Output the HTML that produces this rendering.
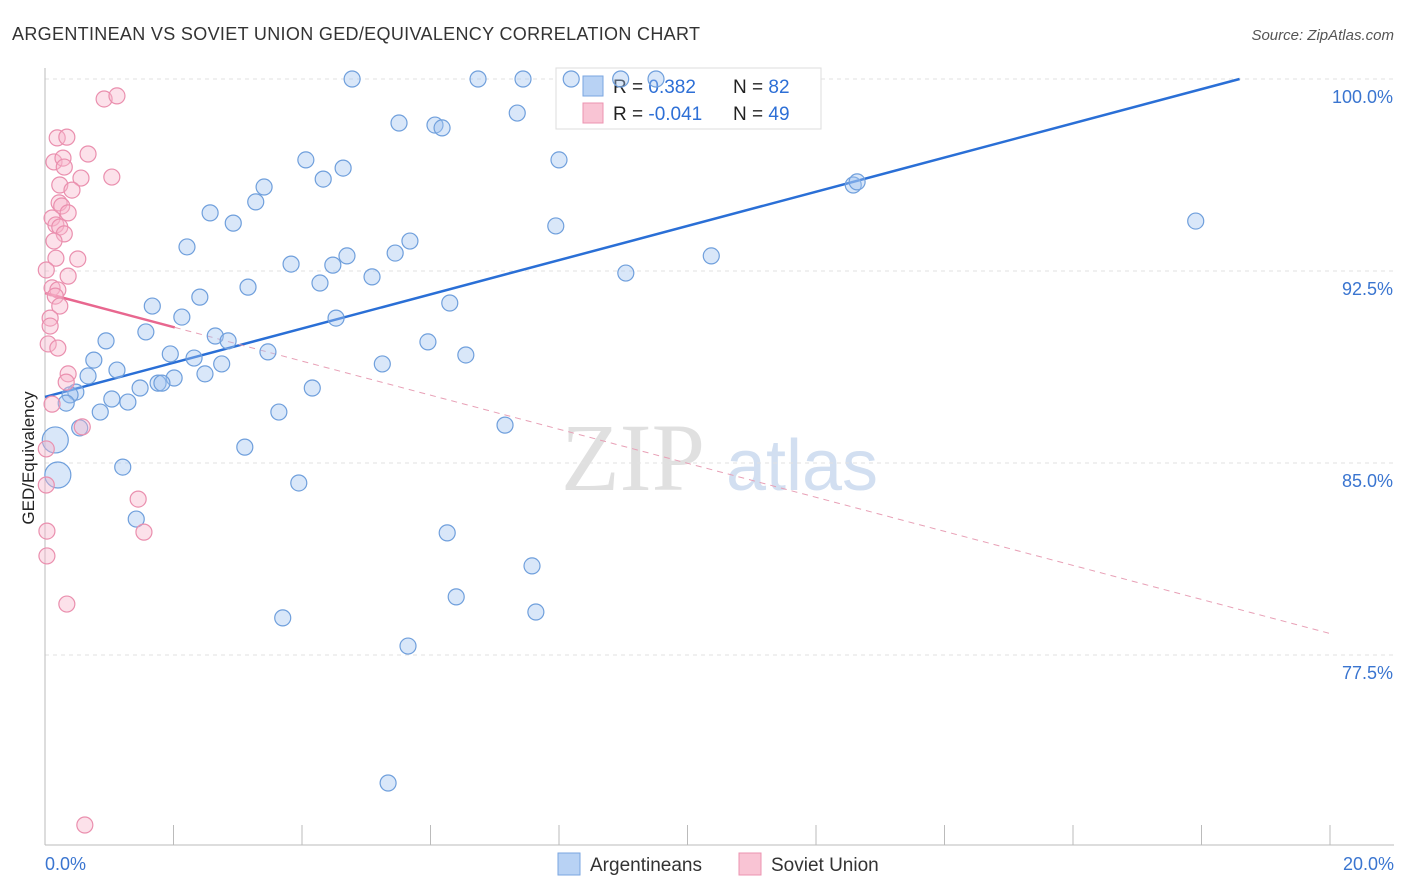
<!DOCTYPE html>
<html><head><meta charset="utf-8"><style>
body{margin:0;background:#fff;font-family:"Liberation Sans",sans-serif}
svg{display:block}
</style></head><body>
<svg id="c" width="1406" height="892" xmlns="http://www.w3.org/2000/svg">
<text x="12" y="40" font-size="18" fill="#333" textLength="688">ARGENTINEAN VS SOVIET UNION GED/EQUIVALENCY CORRELATION CHART</text>
<text x="1394" y="40" font-size="15" fill="#555" font-style="italic" text-anchor="end">Source: ZipAtlas.com</text>
<g><text x="633" y="490" font-size="96" fill="#d9d9d9" font-family="Liberation Serif" text-anchor="middle" opacity="0.8">ZIP</text><text x="802" y="490" font-size="72" fill="#c8d8ee" text-anchor="middle" opacity="0.8">atlas</text></g>
<g id="grid"></g><g id="axes"></g>
<g>
<rect x="556" y="68" width="265" height="61" fill="#fff" stroke="#ddd"/>
<rect x="583" y="76" width="20" height="20" fill="#b8d2f4" stroke="#7aa6e0"/>
<rect x="583" y="103" width="20" height="20" fill="#f9c4d4" stroke="#ec93b0"/>
<text x="613" y="93" font-size="19" fill="#222">R = <tspan fill="#2d6fd6"> 0.382</tspan></text>
<text x="733" y="93" font-size="19" fill="#222">N = <tspan fill="#2d6fd6">82</tspan></text>
<text x="613" y="120" font-size="19" fill="#222">R = <tspan fill="#2d6fd6">-0.041</tspan></text>
<text x="733" y="120" font-size="19" fill="#222">N = <tspan fill="#2d6fd6">49</tspan></text>
</g>
<g id="lines"></g><g id="pts"></g>
<text transform="translate(34,458) rotate(-90)" font-size="17" fill="#222" text-anchor="middle">GED/Equivalency</text>
<g>
<rect x="558" y="853" width="22" height="22" fill="#b8d2f4" stroke="#7aa6e0"/>
<text x="590" y="871" font-size="19" fill="#333">Argentineans</text>
<rect x="739" y="853" width="22" height="22" fill="#f9c4d4" stroke="#ec93b0"/>
<text x="771" y="871" font-size="19" fill="#333">Soviet Union</text>
</g>
</svg>
<script>
const blueX=[4.78,6.74,7.44,8.19,8.96,9.51,7.35,5.51,6.07,6.18,8.0,4.06,4.64,4.33,3.41,12.58,12.64,3.28,2.57,2.93,7.95,17.91,2.21,5.68,5.45,4.70,10.37,3.83,4.48,9.04,5.09,4.28,3.16,2.41,6.30,1.67,2.13,4.53,1.57,2.65,0.95,2.85,5.96,3.47,6.55,1.95,2.32,0.76,2.75,5.25,1.12,2.49,0.67,2.01,1.76,1.82,1.48,4.16,0.48,0.39,1.04,0.33,1.29,0.86,3.64,7.16,0.54,0.16,3.11,1.21,0.20,3.95,1.42,6.26,7.58,6.40,7.64,3.70,5.65,5.34];
const blueY=[100,100,100,100,100,100,98.67,98.28,98.2,98.09,96.84,96.84,96.52,96.09,95.78,95.86,95.98,95.2,94.77,94.37,94.26,94.45,93.44,93.67,93.2,93.09,93.09,92.77,92.73,92.42,92.27,92.03,91.87,91.48,91.25,91.13,90.7,90.66,90.12,89.96,89.77,89.77,89.73,89.34,89.22,89.26,89.1,89.02,88.87,88.87,88.63,88.48,88.4,88.32,88.12,88.12,87.93,87.93,87.77,87.66,87.5,87.34,87.38,86.99,86.99,86.48,86.37,85.9,85.62,84.84,84.53,84.22,82.81,82.27,80.98,79.77,79.18,78.95,77.85,72.5];
const pinkX=[0.92,1.12,0.19,0.34,0.67,0.14,0.28,0.30,1.04,0.56,0.23,0.42,0.22,0.26,0.36,0.11,0.17,0.23,0.30,0.14,0.51,0.17,0.36,0.11,0.20,0.16,0.23,0.08,0.08,0.05,0.20,0.36,0.33,0.11,0.58,0.02,0.02,1.45,1.54,0.03,0.03,0.34,0.62,0.02];
const pinkY=[99.22,99.34,97.7,97.73,97.07,96.76,96.91,96.56,96.17,96.13,95.86,95.66,95.16,95.04,94.77,94.57,94.3,94.22,93.95,93.67,92.97,93.0,92.3,91.84,91.76,91.52,91.13,90.66,90.35,89.65,89.49,88.48,88.16,87.3,86.41,85.55,84.14,83.59,82.3,82.34,81.37,79.49,70.86,92.54];
const yTicks=[100,92.5,85,77.5];
const blueFit=[87.58,0.668];
const pinkFit=[91.64,-0.665];
const X=v=>45+v*64.25, Y=v=>79+(100-v)*25.6;
const NS="http://www.w3.org/2000/svg";
function mk(t,a,p){const e=document.createElementNS(NS,t);for(const k in a)e.setAttribute(k,a[k]);p.appendChild(e);return e;}
const grid=document.getElementById('grid'),axes=document.getElementById('axes'),lines=document.getElementById('lines'),pts=document.getElementById('pts');
yTicks.forEach(t=>{
 const l=mk('line',{x1:45,x2:1394,y1:Y(t),y2:Y(t),stroke:'#e2e2e2','stroke-dasharray':'4,4'},grid);
 
 
 const tx=mk('text',{x:1393,y:Y(t)+24,'font-size':18,fill:'#3a75d0','text-anchor':'end'},axes);
 tx.textContent=t.toFixed(1)+'%';
 
 
});
const ax=mk('line',{x1:45,x2:45,y1:68,y2:845,stroke:'#bbb'},axes);


const bx=mk('line',{x1:45,x2:1394,y1:845,y2:845,stroke:'#bbb'},axes);


for(let i=0;i<=10;i++){const t=mk('line',{x1:X(i*2),x2:X(i*2),y1:825,y2:845,stroke:'#bbb'},axes);
 
 }
[[0,'0.0%','start',45],[20,'20.0%','end',1394]].forEach(a=>{const t=mk('text',{x:a[3],y:870,'font-size':18,fill:'#3a75d0','text-anchor':a[2]},axes);t.textContent=a[1];
 
 });
const bxEnd=(100-blueFit[0])/blueFit[1];
const bl=mk('line',{x1:X(0),y1:Y(blueFit[0]),x2:X(bxEnd),y2:Y(100),stroke:'#2a6fd6','stroke-width':2.5},lines);


const pl=mk('line',{x1:X(0),y1:Y(pinkFit[0]),x2:X(2.02),y2:Y(pinkFit[0]+pinkFit[1]*2.02),stroke:'#e8678f','stroke-width':2.5},lines);


const pd=mk('line',{x1:X(2.02),y1:Y(pinkFit[0]+pinkFit[1]*2.02),x2:X(20),y2:Y(pinkFit[0]+pinkFit[1]*20),stroke:'#e8a0b6','stroke-width':1,'stroke-dasharray':'6,5'},lines);


blueX.forEach((x,i)=>{const big=(i==67||i==70);
 const c=mk('circle',{cx:X(x),cy:Y(blueY[i]),r:big?13:8,fill:'rgba(160,196,240,0.4)',stroke:'#6f9fdc','stroke-width':1.2},pts);
 
 });
pinkX.forEach((x,i)=>{
 const c=mk('circle',{cx:X(x),cy:Y(pinkY[i]),r:8,fill:'rgba(248,180,202,0.4)',stroke:'#ea8fae','stroke-width':1.2},pts);
 
 });
</script>
</body></html>
